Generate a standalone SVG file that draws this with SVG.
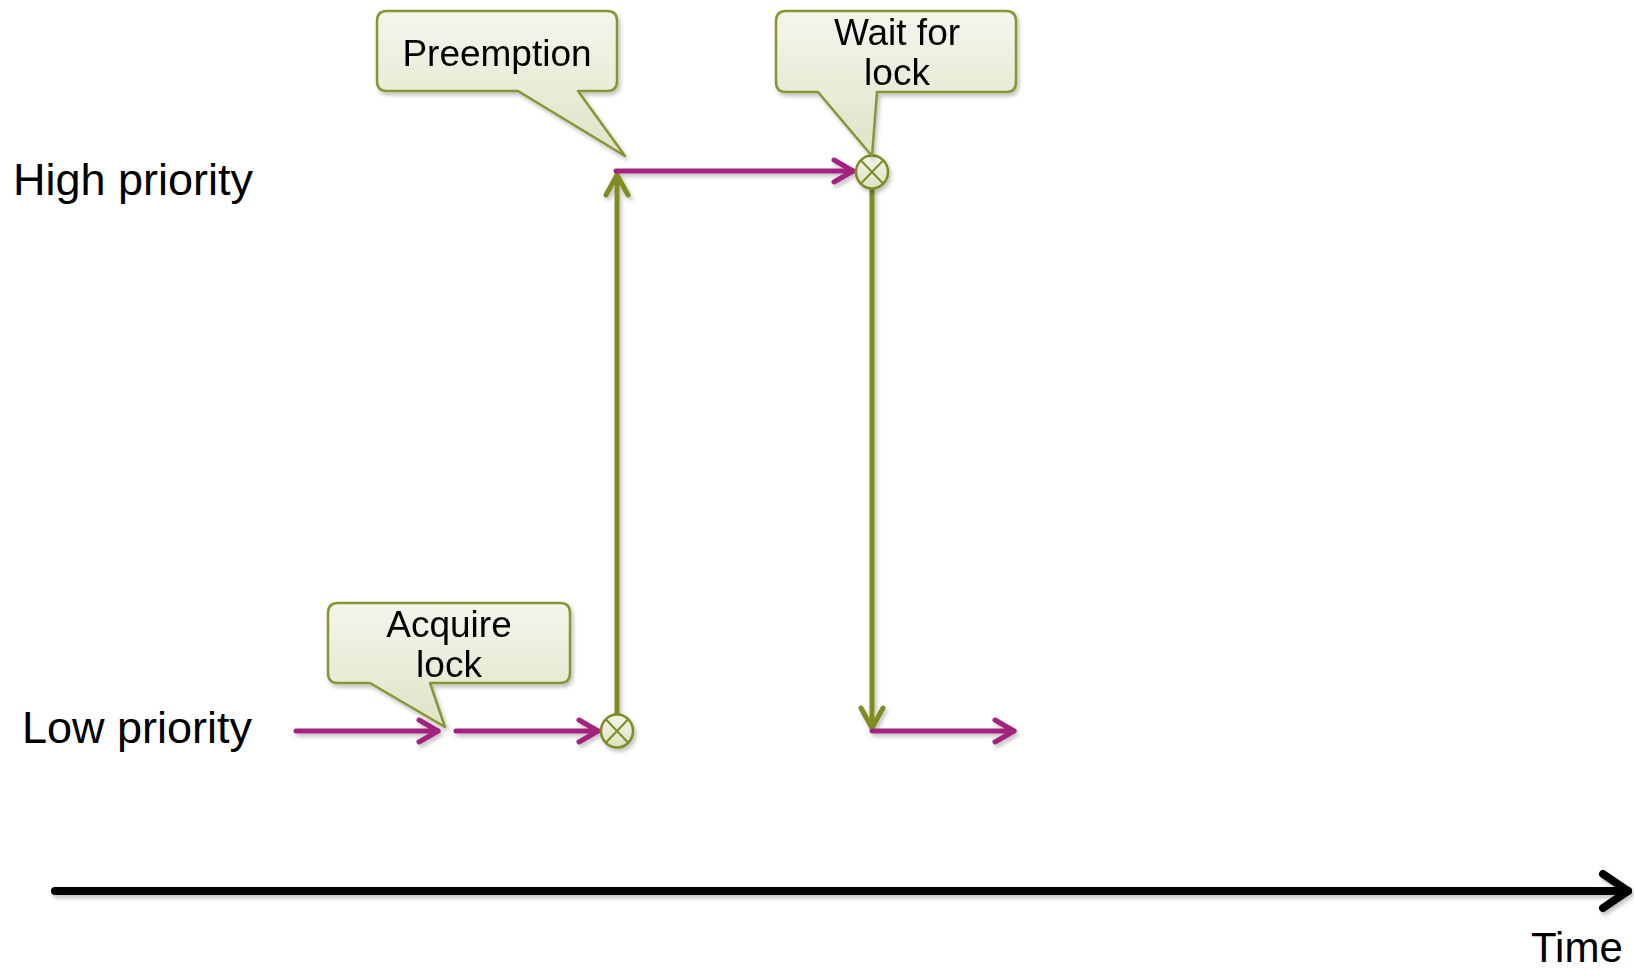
<svg xmlns="http://www.w3.org/2000/svg" width="1634" height="976" viewBox="0 0 1634 976">
  <defs>
    <style>
      .lbl { font-family: "Liberation Sans", Arial, sans-serif; font-size: 45px; fill: #000; }
      .ctext { font-family: "Liberation Sans", Arial, sans-serif; font-size: 37px; fill: #000; text-anchor: middle; }
      .callout { fill: url(#cfill); stroke: #8A9433; stroke-width: 2.5; stroke-linejoin: round; }
      .purple { stroke: #A3237F; stroke-width: 5; stroke-linecap: round; fill: none; marker-end: url(#mPurple); }
      .olive { stroke: #808B22; stroke-width: 5; stroke-linecap: round; fill: none; marker-end: url(#mOlive); }
      .axis { stroke: #000; stroke-width: 8; stroke-linecap: round; fill: none; marker-end: url(#mBlack); }
      .lockc { fill: url(#lfill); stroke: #808B22; stroke-width: 2.5; }
      .lockx { stroke: #808B22; stroke-width: 2; }
    </style>
    <linearGradient id="cfill" x1="0" y1="0" x2="0" y2="1">
      <stop offset="0" stop-color="#F4F6EC"/>
      <stop offset="1" stop-color="#DFE3C6"/>
    </linearGradient>
    <linearGradient id="lfill" x1="0" y1="0" x2="0" y2="1">
      <stop offset="0" stop-color="#F4F6EC"/>
      <stop offset="1" stop-color="#DCE1C0"/>
    </linearGradient>
    <filter id="shadow" x="-20%" y="-20%" width="140%" height="140%">
      <feGaussianBlur in="SourceAlpha" stdDeviation="2"/>
      <feOffset dx="2" dy="3" result="b"/>
      <feComponentTransfer><feFuncA type="linear" slope="0.25"/></feComponentTransfer>
      <feMerge><feMergeNode/><feMergeNode in="SourceGraphic"/></feMerge>
    </filter>
    <marker id="mPurple" markerUnits="userSpaceOnUse" viewBox="-26 -16 30 32" markerWidth="30" markerHeight="32" refX="0" refY="0" orient="auto">
      <path d="M-19,-11 L0,0 L-19,11" fill="none" stroke="#A3237F" stroke-width="5" stroke-linecap="round" stroke-linejoin="round"/>
    </marker>
    <marker id="mOlive" markerUnits="userSpaceOnUse" viewBox="-26 -16 30 32" markerWidth="30" markerHeight="32" refX="0" refY="0" orient="auto">
      <path d="M-20,-11 L0,0 L-20,11" fill="none" stroke="#808B22" stroke-width="5" stroke-linecap="round" stroke-linejoin="round"/>
    </marker>
    <marker id="mBlack" markerUnits="userSpaceOnUse" viewBox="-32 -22 36 44" markerWidth="36" markerHeight="44" refX="0" refY="0" orient="auto">
      <path d="M-25,-17 L0,0 L-25,17" fill="none" stroke="#000" stroke-width="8" stroke-linecap="round" stroke-linejoin="round"/>
    </marker>
  </defs>
  <rect width="1634" height="976" fill="#fff"/>

  <g id="label-high"><text class="lbl" x="13" y="195">High priority</text></g>
  <g id="label-low"><text class="lbl" x="22" y="743">Low priority</text></g>
  <g id="label-time"><text class="lbl" x="1531" y="962" style="font-size:42px">Time</text></g>

  <g id="connectors" filter="url(#shadow)">
    <line class="axis" x1="55" y1="891" x2="1628" y2="891"/>
    <line class="purple" x1="296" y1="731" x2="438" y2="731"/>
    <line class="purple" x1="456" y1="731" x2="598" y2="731"/>
    <line class="olive" x1="617" y1="714" x2="617" y2="175"/>
    <line class="purple" x1="616" y1="171" x2="853" y2="171"/>
    <line class="olive" x1="872" y1="189" x2="872" y2="728"/>
    <line class="purple" x1="872" y1="731" x2="1014" y2="731"/>
  </g>

  <g id="lock-low" filter="url(#shadow)">
    <ellipse class="lockc" cx="617" cy="731" rx="16" ry="16.5"/>
    <line class="lockx" x1="606" y1="719.5" x2="628" y2="742.5"/>
    <line class="lockx" x1="628" y1="719.5" x2="606" y2="742.5"/>
  </g>
  <g id="lock-high" filter="url(#shadow)">
    <ellipse class="lockc" cx="872" cy="172" rx="16" ry="16.5"/>
    <line class="lockx" x1="861" y1="160.5" x2="883" y2="183.5"/>
    <line class="lockx" x1="883" y1="160.5" x2="861" y2="183.5"/>
  </g>

  <g id="callout-preemption" filter="url(#shadow)">
    <path class="callout" d="M387,11 H607 Q617,11 617,21 V81 Q617,91 607,91 H578 L625,156 L518,91 H387 Q377,91 377,81 V21 Q377,11 387,11 Z"/>
    <text class="ctext" x="497" y="66">Preemption</text>
  </g>

  <g id="callout-wait" filter="url(#shadow)">
    <path class="callout" d="M786,11 H1006 Q1016,11 1016,21 V82 Q1016,92 1006,92 H877 L872,156 L818,92 H786 Q776,92 776,82 V21 Q776,11 786,11 Z"/>
    <text class="ctext" x="897" y="45">Wait for</text>
    <text class="ctext" x="897" y="85">lock</text>
  </g>

  <g id="callout-acquire" filter="url(#shadow)">
    <path class="callout" d="M338,603 H560 Q570,603 570,613 V673 Q570,683 560,683 H430 L445,727 L370,683 H338 Q328,683 328,673 V613 Q328,603 338,603 Z"/>
    <text class="ctext" x="449" y="637">Acquire</text>
    <text class="ctext" x="449" y="677">lock</text>
  </g>
</svg>
